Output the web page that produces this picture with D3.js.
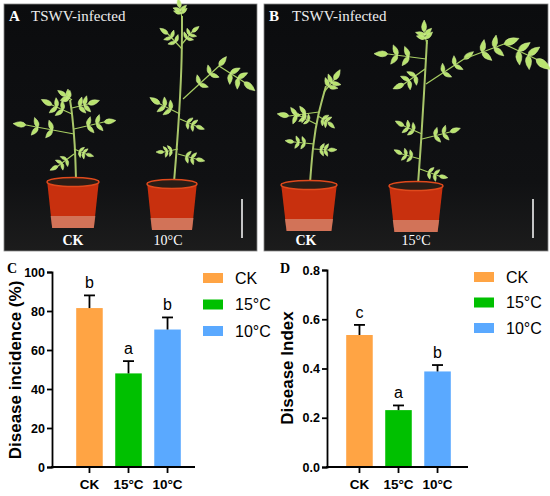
<!DOCTYPE html>
<html>
<head>
<meta charset="utf-8">
<script src="https://cdn.jsdelivr.net/npm/d3@7"></script>
<style>
  body { margin: 0; background: #fff; }
  text { font-family: Arial, "Liberation Sans", sans-serif; }
</style>
</head>
<body>
<div id="fig"></div>
<script>
// data
var groups = ["CK", "15°C", "10°C"];
var colors = ["#FFA444", "#00C000", "#5AA9FF"];
var incidence = [81.5, 48, 70.5];
var incidenceErr = [6.5, 6.3, 6.2];
var incidenceLetters = ["b", "a", "b"];
var diseaseIndex = [0.536, 0.231, 0.388];
var diseaseIndexErr = [0.041, 0.019, 0.026];
var indexLetters = ["c", "a", "b"];
var incidenceTicks = [0, 20, 40, 60, 80, 100];
var indexTicks = [0, 0.2, 0.4, 0.6, 0.8];

var W = 550, H = 496;

var svg = d3.select("#fig")
  .append("svg")
    .attr("width", W)
    .attr("height", H);

svg.append("rect").attr("width", W).attr("height", H).attr("fill", "#fff");

// pointed leaflet, drawn along +x with length r
function leaflet(g, x, y, r, ang) {
  let w = r * 0.42;
  g.append("path")
    .attr("d", "M0,0 Q" + (r * 0.3) + "," + (-w) + " " + r + ",0 Q" + (r * 0.3) + "," + w + " 0,0Z")
    .attr("transform", "translate(" + x + "," + y + ") rotate(" + ang + ")")
    .attr("fill", "#b9e46f").attr("stroke", "#d6f29c").attr("stroke-width", 0.5);
}

// ---- photo panels (drawn as simple illustrations) ----
function photoPanel(x0, w, letter, plants) {
  let g = svg.append("g").attr("transform", "translate(" + x0 + ",4)");
  let grad = "bg" + letter;
  let lg = svg.append("defs").append("linearGradient")
    .attr("id", grad).attr("x1", 0).attr("x2", 0).attr("y1", 0).attr("y2", 1);
  lg.append("stop").attr("offset", "0").attr("stop-color", "#0b0c0e");
  lg.append("stop").attr("offset", "0.72").attr("stop-color", "#101113");
  lg.append("stop").attr("offset", "1").attr("stop-color", "#1c1c1c");
  g.append("rect")
    .attr("width", w).attr("height", 247)
    .attr("fill", "url(#" + grad + ")")
    .attr("stroke", "#888").attr("stroke-width", 0.8);

  g.append("text").attr("x", 5).attr("y", 17)
    .style("font-family", "'Liberation Serif', serif").style("font-weight", "bold")
    .style("font-size", "15px").attr("fill", "#fff").text(letter);
  g.append("text").attr("x", letter == "A" ? 27 : 28).attr("y", 17)
    .style("font-family", "'Liberation Serif', serif")
    .style("font-size", "15px").attr("fill", "#eee").text("TSWV-infected");

  plants.forEach(p => {
    let pg = g.append("g");
    // stem
    pg.append("path")
      .attr("d", d3.line().curve(d3.curveBasis)(p.stem))
      .attr("fill", "none").attr("stroke", "#a9c66a").attr("stroke-width", 2);
    // leaf stalks + compound leaves
    p.leaves.forEach(l => {
      let dx = l[2] - l[0], dy = l[3] - l[1];
      let ang = Math.atan2(dy, dx) * 180 / Math.PI;
      pg.append("line")
        .attr("x1", l[0]).attr("y1", l[1]).attr("x2", l[2]).attr("y2", l[3])
        .attr("stroke", "#a8cf63").attr("stroke-width", 1.2);
      let s = l[4];
      [0.45, 0.75].forEach(t => {
        let px = l[0] + dx * t, py = l[1] + dy * t;
        leaflet(pg, px, py, s * 0.8, ang - 60);
        leaflet(pg, px, py, s * 0.8, ang + 60);
      });
      leaflet(pg, l[2], l[3], s, ang + l[5] * 0.3);
    });
    // pot
    let cx = p.pot[0], top = p.pot[1], hw = p.pot[2];
    pg.append("path")
      .attr("d", "M" + (cx - hw) + "," + top + " L" + (cx + hw) + "," + top +
        " L" + (cx + hw * 0.8) + "," + (top + 48) + " L" + (cx - hw * 0.8) + "," + (top + 48) + "Z")
      .attr("fill", "#c8300e");
    pg.append("path")
      .attr("d", "M" + (cx - hw * 0.86) + "," + (top + 36) + " L" + (cx + hw * 0.86) + "," + (top + 36) +
        " L" + (cx + hw * 0.8) + "," + (top + 48) + " L" + (cx - hw * 0.8) + "," + (top + 48) + "Z")
      .attr("fill", "#d9a08a").attr("opacity", 0.6);
    pg.append("ellipse").attr("cx", cx).attr("cy", top + 2).attr("rx", hw).attr("ry", 4.5)
      .attr("fill", "#2a1d16").attr("stroke", "#e04a1c").attr("stroke-width", 1.5);
    g.append("text").attr("x", p.label[0]).attr("y", 241)
      .attr("text-anchor", "middle")
      .style("font-family", "'Liberation Serif', serif")
      .style("font-weight", p.label[1] == "CK" ? "bold" : "normal")
      .style("font-size", "14px").attr("fill", "#fff").text(p.label[1]);
  });

  // scale bar
  g.append("line").attr("x1", w - 15).attr("x2", w - 15).attr("y1", 195).attr("y2", 234)
    .attr("stroke", "#fff").attr("stroke-width", 1.5);
}

photoPanel(4, 253, "A", [
  { pot: [69, 176, 26], label: [69, "CK"],
    stem: [[72, 176], [71, 140], [68, 108], [66, 96]],
    leaves: [[70, 130, 22, 121, 13, -15], [70, 125, 100, 118, 12, 20], [68, 110, 48, 101, 12, 10],
             [68, 104, 84, 100, 12, -10], [70, 150, 54, 162, 9, 30], [70, 145, 82, 150, 8, -20],
             [68, 96, 62, 92, 10, 0]] },
  { pot: [168, 178, 25], label: [164, "10°C"],
    stem: [[170, 178], [174, 130], [178, 60], [178, 12]],
    leaves: [[178, 45, 164, 30, 10, -40], [178, 40, 188, 28, 9, 40], [178, 14, 176, 4, 10, 0],
             [179, 95, 215, 62, 12, -30], [215, 62, 240, 78, 14, 20], [176, 110, 156, 100, 12, 20],
             [176, 115, 192, 122, 9, -10], [174, 145, 160, 148, 8, 40], [174, 150, 192, 155, 9, -10]] }
]);

photoPanel(264, 284, "B", [
  { pot: [45, 179, 28], label: [42, "CK"],
    stem: [[46, 179], [49, 140], [54, 110], [62, 82]],
    leaves: [[60, 88, 70, 76, 12, -30], [55, 108, 25, 112, 12, 60], [54, 112, 64, 118, 9, 40],
             [50, 140, 30, 138, 9, 10], [50, 145, 64, 146, 9, -20], [52, 120, 36, 112, 8, -10]] },
  { pot: [152, 180, 27], label: [152, "15°C"],
    stem: [[154, 180], [157, 140], [160, 90], [163, 36]],
    leaves: [[163, 40, 160, 28, 12, 50], [162, 55, 124, 50, 14, -20], [161, 65, 140, 80, 12, 40],
             [162, 80, 200, 55, 12, -15], [200, 55, 240, 40, 16, 0], [240, 40, 272, 55, 18, 35],
             [158, 130, 140, 122, 10, 20], [158, 135, 186, 128, 11, -20], [156, 155, 138, 150, 9, 40],
             [156, 165, 175, 172, 9, -30]] }
]);

// ---- bar charts ----
function barChart(opt) {
  let g = svg.append("g");

  let x = d3.scaleBand()
    .domain(groups)
    .range(opt.xRange)
    .paddingInner(0.32)
    .paddingOuter(0.415);

  let y = d3.scaleLinear()
    .domain(opt.domain)
    .range([467, opt.yTop]);

  // bars
  g.selectAll(".bar")
    .data(groups)
    .enter()
    .append("rect")
    .attr("x", d => x(d))
    .attr("y", (d, i) => y(opt.values[i]))
    .attr("width", x.bandwidth())
    .attr("height", (d, i) => y(0) - y(opt.values[i]))
    .attr("fill", (d, i) => colors[i]);

  // error bars (upper only)
  let cap = 5.5;
  groups.forEach((d, i) => {
    let cx = x(d) + x.bandwidth() / 2;
    let top = y(opt.values[i] + opt.errs[i]);
    g.append("line").attr("x1", cx).attr("x2", cx)
      .attr("y1", y(opt.values[i])).attr("y2", top)
      .attr("stroke", "#000").attr("stroke-width", 1.8);
    g.append("line").attr("x1", cx - cap).attr("x2", cx + cap)
      .attr("y1", top).attr("y2", top)
      .attr("stroke", "#000").attr("stroke-width", 1.8);
    g.append("text").attr("x", cx).attr("y", top - 7)
      .attr("text-anchor", "middle")
      .style("font-size", "16px").text(opt.letters[i]);
  });

  // y axis
  let ya = g.append("g")
    .attr("transform", "translate(" + opt.axisX + ",0)")
    .call(d3.axisLeft(y).tickValues(opt.ticks).tickFormat(opt.fmt).tickSizeOuter(0).tickSize(5).tickPadding(2));
  ya.select(".domain").attr("stroke-width", 1.8);
  ya.selectAll(".tick line").attr("stroke-width", 1.8);
  ya.selectAll("text").style("font-size", "12.5px").style("font-weight", "bold")
    .style("font-family", "Arial, 'Liberation Sans', sans-serif").attr("fill", "#000");

  // x axis
  let xa = g.append("g")
    .attr("transform", "translate(0,467)")
    .call(d3.axisBottom(x).tickSize(6).tickSizeOuter(0).tickPadding(6));
  xa.select(".domain").remove();
  xa.selectAll(".tick line").attr("stroke-width", 1.8);
  xa.selectAll("text").style("font-size", "13.5px").style("font-weight", "bold")
    .style("font-family", "Arial, 'Liberation Sans', sans-serif").attr("fill", "#000");
  g.append("line")
    .attr("x1", opt.axisX - 1).attr("x2", opt.axisEnd)
    .attr("y1", 467).attr("y2", 467)
    .attr("stroke", "#000").attr("stroke-width", 1.8);

  // y label
  g.append("text")
    .attr("transform", "translate(" + opt.labelX + "," + opt.labelY + ") rotate(-90)")
    .attr("text-anchor", "middle")
    .style("font-size", "17px").style("font-weight", "bold")
    .text(opt.yLabel);

  // panel letter
  g.append("text").attr("x", opt.letterPos[0]).attr("y", opt.letterPos[1])
    .style("font-family", "'Liberation Serif', serif").style("font-weight", "bold")
    .style("font-size", "14px").text(opt.panel);

  // legend
  let lg = g.append("g");
  groups.forEach((d, i) => {
    let yy = opt.legend[1] + i * opt.legend[2];
    lg.append("rect").attr("x", opt.legend[0]).attr("y", yy - 5)
      .attr("width", 20).attr("height", 10).attr("fill", colors[i]);
    lg.append("text").attr("x", opt.legend[0] + 32).attr("y", yy + 5.5)
      .style("font-size", "16px").text(d);
  });
}

barChart({
  panel: "C", letterPos: [7, 273],
  xRange: [60, 197], axisX: 52, axisEnd: 195, yTop: 272,
  domain: [0, 100], ticks: incidenceTicks, fmt: d3.format("d"),
  values: incidence, errs: incidenceErr, letters: incidenceLetters,
  yLabel: "Disease incidence (%)", labelX: 21, labelY: 370,
  legend: [203, 278, 26.5]
});

barChart({
  panel: "D", letterPos: [280, 273],
  xRange: [330, 467], axisX: 327, axisEnd: 468, yTop: 270,
  domain: [0, 0.8], ticks: indexTicks, fmt: d3.format(".1f"),
  values: diseaseIndex, errs: diseaseIndexErr, letters: indexLetters,
  yLabel: "Disease Index", labelX: 293, labelY: 368,
  legend: [474, 277, 25.5]
});
</script>
</body>
</html>
